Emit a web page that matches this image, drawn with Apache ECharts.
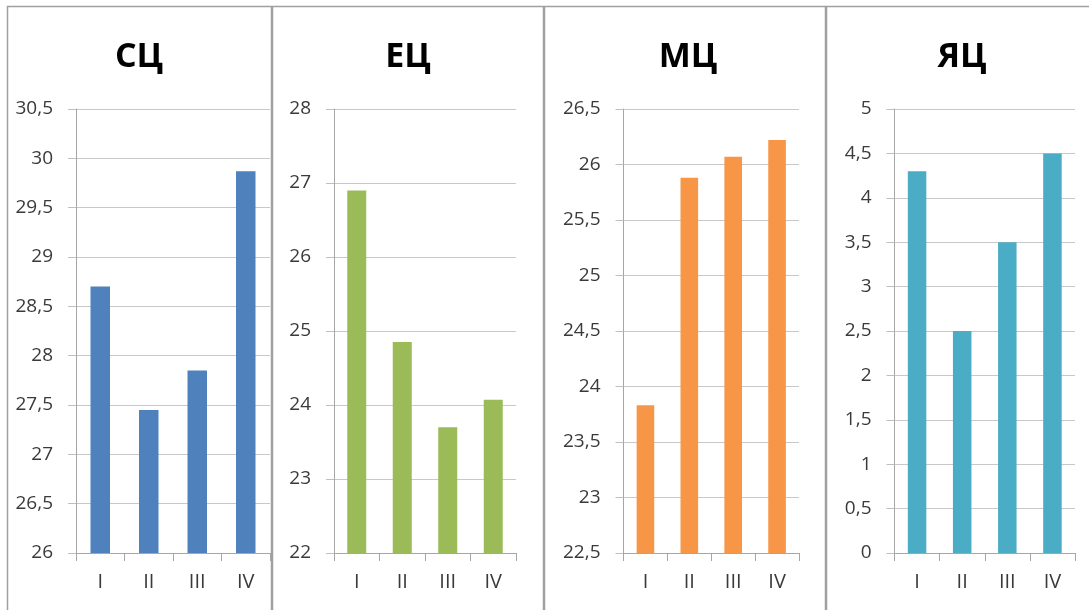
<!DOCTYPE html>
<html>
<head>
<meta charset="utf-8">
<script src="https://cdn.jsdelivr.net/npm/echarts@6/dist/echarts.min.js"></script>
<style>
html,body{margin:0;padding:0;background:#fff;}
#c{width:1089px;height:610px;}
</style>
</head>
<body>
<div id="c"></div>
<script>
// ---- data ----
var categories = ['I', 'II', 'III', 'IV'];
var panelTitles = ['СЦ', 'ЕЦ', 'МЦ', 'ЯЦ'];
var valuesSC = [28.7, 27.45, 27.85, 29.87];
var valuesEC = [26.9, 24.85, 23.7, 24.07];
var valuesMC = [23.83, 25.88, 26.07, 26.22];
var valuesYC = [4.3, 2.5, 3.5, 4.5];
var yMin = [26, 22, 22.5, 0];
var yMax = [30.5, 28, 26.5, 5];
var yStep = [0.5, 1, 0.5, 0.5];

// ---- layout / style ----
var seriesData = [valuesSC, valuesEC, valuesMC, valuesYC];
var colors = ['#4F81BD', '#9BBB59', '#F79646', '#4BACC6'];
var grids = [
  {left: 76, width: 194},
  {left: 334, width: 182},
  {left: 623.5, width: 175.5},
  {left: 894.5, width: 180.5}
];
var barWidths = [19.5, 19, 17.6, 18.5];
var panels = [[7, 272], [272, 544], [544, 826], [826, 1100]];
var titleX = [139, 408, 688, 962];

var option = {
  animation: false,
  backgroundColor: '#ffffff',
  grid: [], xAxis: [], yAxis: [], series: [], graphic: []
};

for (var i = 0; i < 4; i++) {
  option.grid.push({left: grids[i].left, width: grids[i].width, top: 109, height: 444, containLabel: false});
  option.xAxis.push({
    type: 'category', gridIndex: i, data: categories,
    axisLine: {show: true, lineStyle: {color: '#A6A6A6', width: 1}},
    axisTick: {show: true, length: 8, inside: false, lineStyle: {color: '#A6A6A6'}},
    axisLabel: {color: '#3A3A3A', fontFamily: 'Open Sans', fontSize: 20, margin: 19},
    splitLine: {show: false}
  });
  option.yAxis.push({
    type: 'value', gridIndex: i, min: yMin[i], max: yMax[i], interval: yStep[i],
    axisLine: {show: true, lineStyle: {color: '#A6A6A6', width: 1}},
    axisTick: {show: true, length: 8, lineStyle: {color: '#BFBFBF'}},
    axisLabel: {
      color: '#3A3A3A', fontFamily: 'Open Sans', fontSize: 19, margin: 23,
      formatter: function (v) { return String(v).replace('.', ','); }
    },
    splitLine: {show: true, lineStyle: {color: '#C8C8C8', width: 1}}
  });
  option.series.push({
    type: 'bar', xAxisIndex: i, yAxisIndex: i, data: seriesData[i],
    barWidth: barWidths[i], itemStyle: {color: colors[i]}
  });
  option.graphic.push({
    type: 'rect', z: -1, silent: true,
    shape: {x: panels[i][0] + 0.5, y: 6.5, width: panels[i][1] - panels[i][0] - 1, height: 640},
    style: {fill: '#ffffff', stroke: '#A0A0A0', lineWidth: 1.5}
  });
  option.graphic.push({
    type: 'text', x: titleX[i], y: 57, silent: true,
    style: {text: panelTitles[i], font: 'bold 34px "Open Sans"', fill: '#000000', textAlign: 'center', textVerticalAlign: 'middle'}
  });
}

var chart = echarts.init(document.getElementById('c'));
chart.setOption(option);
</script>
</body>
</html>
